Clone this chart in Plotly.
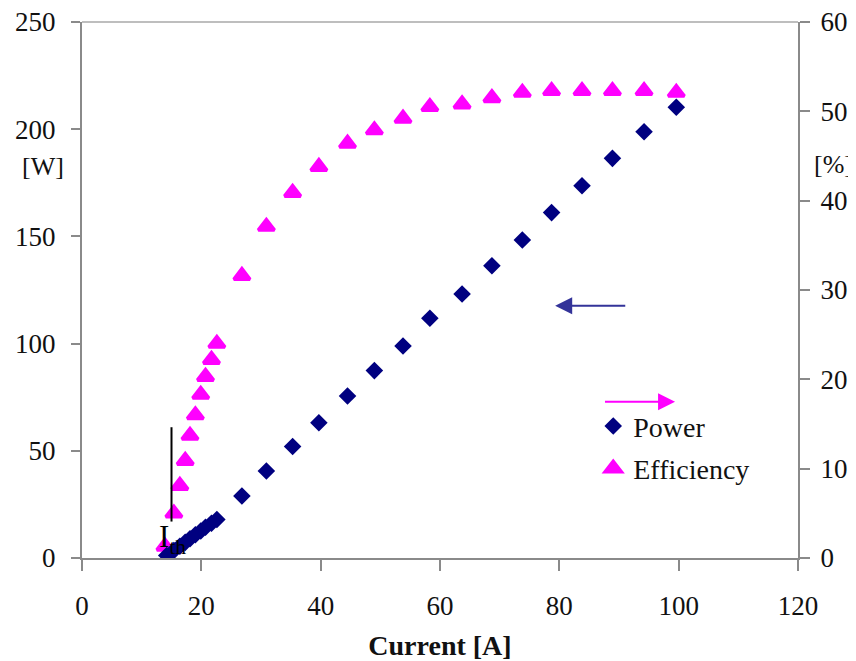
import plotly.graph_objects as go

# ---- data ----
current_power = [14.2, 15.4, 16.4, 17.3, 18.1, 19.0, 19.9, 20.7, 21.7, 22.6,
                 26.8, 30.9, 35.3, 39.7, 44.5, 49.0, 53.8, 58.3, 63.7, 68.7,
                 73.8, 78.7, 83.8, 88.9, 94.2, 99.6]
power_w = [1.2, 3.5, 5.5, 7.3, 9.0, 10.8, 12.6, 14.3, 16.2, 18.0,
           28.9, 40.6, 52.0, 63.1, 75.6, 87.4, 98.9, 111.8, 123.1, 136.3,
           148.3, 161.1, 173.6, 186.4, 198.8, 210.2]

current_eff = [13.9, 15.4, 16.4, 17.3, 18.1, 19.0, 19.9, 20.7, 21.7, 22.6,
               26.8, 30.9, 35.3, 39.7, 44.5, 49.0, 53.8, 58.3, 63.7, 68.7,
               73.8, 78.7, 83.8, 88.9, 94.2, 99.6]
efficiency_pct = [1.3, 5.0, 8.1, 10.9, 13.7, 16.0, 18.3, 20.3, 22.2, 24.0,
                  31.6, 37.1, 40.9, 43.8, 46.4, 47.9, 49.2, 50.5, 50.8, 51.5,
                  52.1, 52.3, 52.3, 52.3, 52.3, 52.1]

x_ticks = [0, 20, 40, 60, 80, 100, 120]
power_ticks = [0, 50, 100, 150, 200, 250]
eff_ticks = [0, 10, 20, 30, 40, 50, 60]

FONT = "Liberation Serif, Times New Roman, serif"
AXC = "#8a8a8a"
TXT = "#111111"

def f(size, color=TXT):
    return dict(family=FONT, size=size, color=color)

fig = go.Figure()

# Efficiency on the main (right-side) axis so Power (overlay) draws on top
fig.add_trace(go.Scatter(
    x=current_eff, y=efficiency_pct, mode="markers", name="Efficiency",
    yaxis="y", legendrank=2, legendgroup="e",
    marker=dict(symbol="triangle-up", size=14, color="#FF00FF",
                line=dict(color="#FF00FF", width=3.5)),
))
fig.add_trace(go.Scatter(
    x=current_power, y=power_w, mode="markers", name="Power",
    yaxis="y2", legendrank=1, legendgroup="p",
    marker=dict(symbol="diamond", size=13.5, color="#000080",
                line=dict(width=0)),
))

fig.update_layout(
    width=848, height=653, autosize=False,
    margin=dict(l=74, r=58, t=14, b=103, autoexpand=False),
    paper_bgcolor="white", plot_bgcolor="white",
    font=f(26),
    xaxis=dict(
        range=[0, 120], tickvals=x_ticks, ticks="outside", ticklen=11,
        tickwidth=2, tickcolor=AXC, showline=True, linecolor=AXC,
        linewidth=2, showgrid=False, zeroline=False, automargin=False,
        tickfont=f(27), ticklabelstandoff=12, ticklabeloverflow="allow",
        title=dict(text="<b>Current [A]</b>", font=f(28), standoff=22),
    ),
    yaxis=dict(
        side="right", range=[0, 60], tickvals=eff_ticks, ticks="outside",
        ticklen=10, tickwidth=2, tickcolor=AXC, showline=True,
        linecolor=AXC, linewidth=2, showgrid=False, zeroline=False,
        automargin=False, tickfont=f(27), ticklabelstandoff=5,
        ticklabeloverflow="allow",
    ),
    yaxis2=dict(
        side="left", overlaying="y", range=[0, 250], tickvals=power_ticks,
        ticks="outside", ticklen=9, tickwidth=2, tickcolor=AXC,
        showline=True, linecolor=AXC, linewidth=2, showgrid=False,
        zeroline=False, automargin=False, tickfont=f(27), ticklabelstandoff=10,
        ticklabeloverflow="allow",
    ),
    yaxis3=dict(
        side="right", overlaying="y", range=[0, 60], tickvals=eff_ticks,
        ticks="inside", ticklen=11, tickwidth=2, tickcolor=AXC,
        showticklabels=False, showline=False, showgrid=False, zeroline=False,
        automargin=False,
    ),
    legend=dict(
        x=0.714, y=0.2925, xanchor="left", yanchor="top",
        bgcolor="rgba(0,0,0,0)", font=f(28),
        itemwidth=30, tracegroupgap=3,
    ),
    showlegend=True,
)

fig.add_shape(type="line", xref="paper", yref="paper", x0=0, x1=1, y0=1, y1=1,
              line=dict(color="#a8a8a8", width=1.5))
# threshold marker line
fig.add_shape(type="line", xref="x", yref="y2", x0=15, x1=15, y0=17, y1=61,
              line=dict(color="black", width=2))

fig.add_annotation(text="I<sub>th</sub>", xref="x", yref="y2", x=12.6, y=9,
                   xanchor="left", yanchor="middle", showarrow=False,
                   font=f(31, "black"))
fig.add_annotation(text="[W]", xref="paper", yref="paper", x=-0.0545, y=0.731,
                   xanchor="center", yanchor="middle", showarrow=False,
                   font=f(26))
fig.add_annotation(text="[%]", xref="paper", yref="paper", x=1.050, y=0.735,
                   xanchor="center", yanchor="middle", showarrow=False,
                   font=f(26))
# arrows pointing to the relevant axes
fig.add_annotation(text="", x=79.3, y=117.7, xref="x", yref="y2",
                   ax=91.3, ay=117.7, axref="x", ayref="y2", showarrow=True,
                   arrowhead=2, arrowsize=1.7, arrowwidth=2, arrowcolor="#333399")
fig.add_annotation(text="", x=99.4, y=17.5, xref="x", yref="y",
                   ax=87.4, ay=17.5, axref="x", ayref="y", showarrow=True,
                   arrowhead=2, arrowsize=1.7, arrowwidth=2, arrowcolor="#FF00FF")

fig.write_html("out.html")
